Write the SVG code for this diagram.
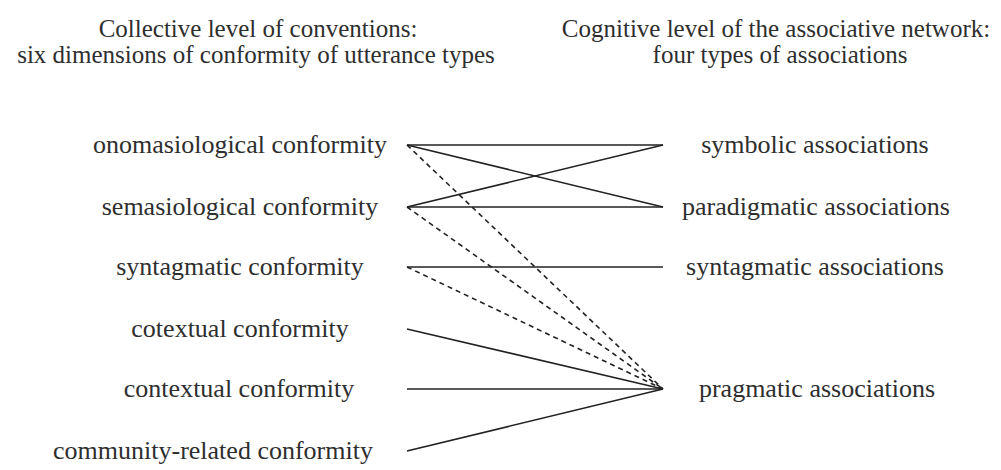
<svg xmlns="http://www.w3.org/2000/svg" width="1001" height="470" viewBox="0 0 1001 470">
  <style>
    text { font-family: "Liberation Serif", "DejaVu Serif", serif; fill: #2e2e2e; text-anchor: middle; }
    .title { font-size: 25px; }
    .label { font-size: 26px; }
    .link { stroke: #222; stroke-width: 1.6; fill: none; }
    .dashed { stroke-dasharray: 5 4; }
  </style>
  <rect width="1001" height="470" fill="#ffffff"/>

  <!-- column headings -->
  <g id="heading-conventions">
    <text class="title" x="258" y="37">Collective level of conventions:</text>
    <text class="title" x="256" y="63">six dimensions of conformity of utterance types</text>
  </g>
  <g id="heading-network">
    <text class="title" x="776" y="37">Cognitive level of the associative network:</text>
    <text class="title" x="780" y="63">four types of associations</text>
  </g>

  <!-- dimensions of conformity -->
  <g id="onomasiological"><text class="label" x="240" y="153">onomasiological conformity</text></g>
  <g id="semasiological"><text class="label" x="240" y="215">semasiological conformity</text></g>
  <g id="syntagmatic-conformity"><text class="label" x="240" y="275">syntagmatic conformity</text></g>
  <g id="cotextual"><text class="label" x="240" y="337">cotextual conformity</text></g>
  <g id="contextual"><text class="label" x="239" y="397">contextual conformity</text></g>
  <g id="community-related"><text class="label" x="213" y="459">community-related conformity</text></g>

  <!-- types of associations -->
  <g id="symbolic"><text class="label" x="815" y="153">symbolic associations</text></g>
  <g id="paradigmatic"><text class="label" x="816" y="215">paradigmatic associations</text></g>
  <g id="syntagmatic-associations"><text class="label" x="815" y="275">syntagmatic associations</text></g>
  <g id="pragmatic"><text class="label" x="817" y="397">pragmatic associations</text></g>

  <!-- connectors -->
  <g id="connectors">
    <line class="link" x1="407" y1="145" x2="663" y2="145"/>
    <line class="link" x1="407" y1="145" x2="663" y2="207"/>
    <line class="link" x1="407" y1="207" x2="663" y2="145"/>
    <line class="link" x1="407" y1="207" x2="663" y2="207"/>
    <line class="link" x1="407" y1="267" x2="663" y2="267"/>
    <line class="link" x1="407" y1="329" x2="663" y2="389"/>
    <line class="link" x1="407" y1="389" x2="663" y2="389"/>
    <line class="link" x1="407" y1="451" x2="663" y2="389"/>
    <line class="link dashed" x1="407" y1="145" x2="663" y2="389"/>
    <line class="link dashed" x1="407" y1="207" x2="663" y2="389"/>
    <line class="link dashed" x1="407" y1="267" x2="663" y2="389"/>
  </g>
</svg>
